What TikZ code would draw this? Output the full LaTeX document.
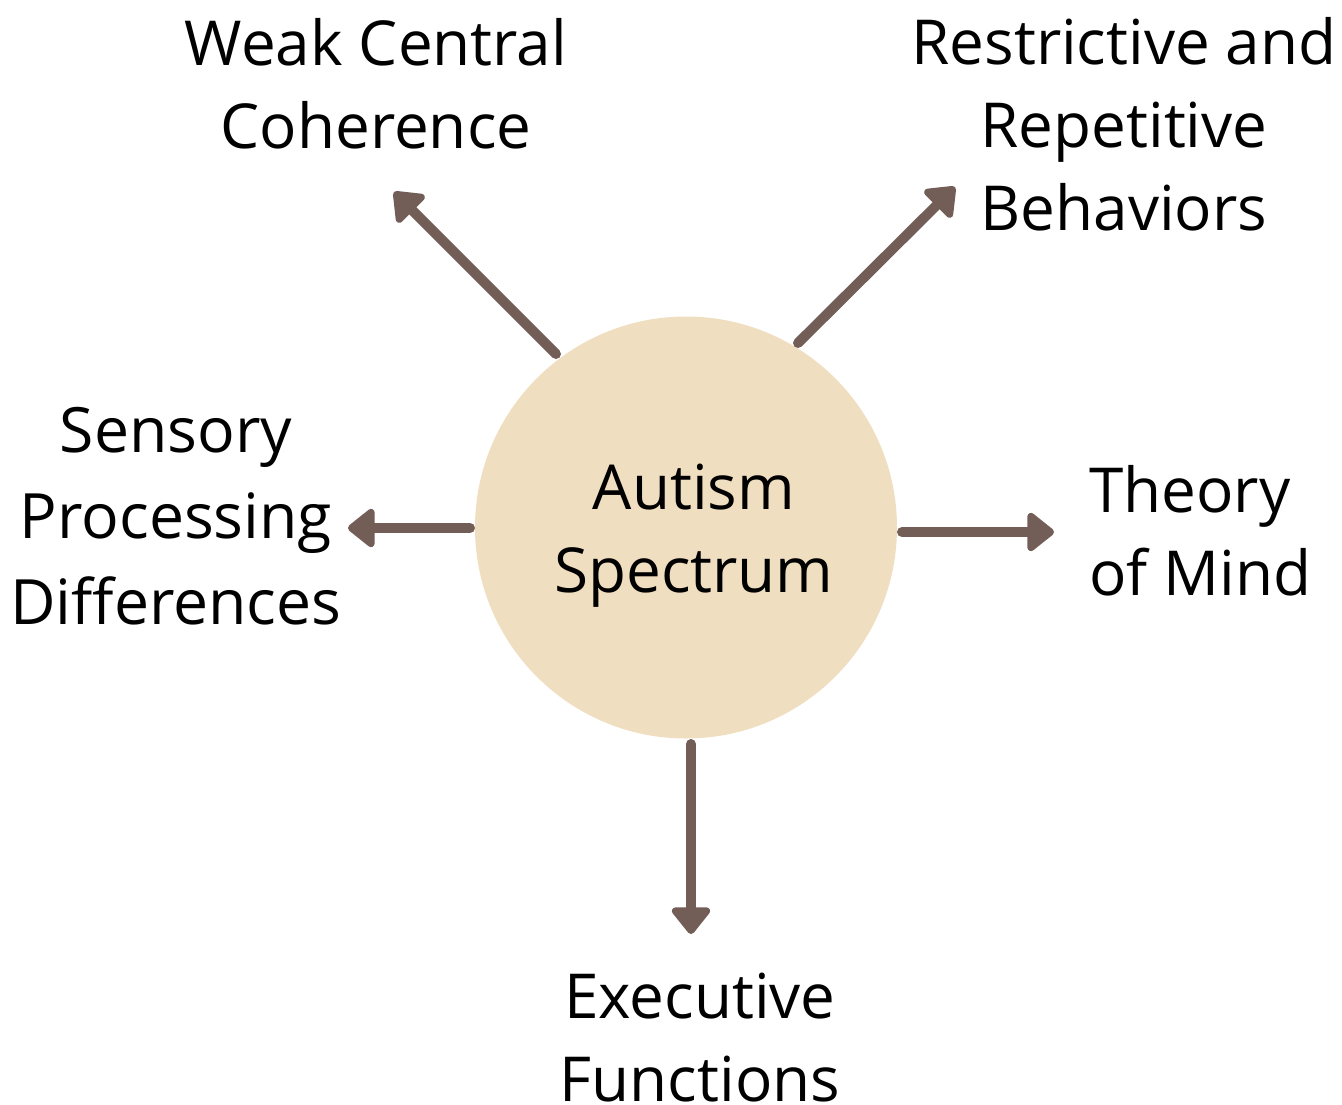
\documentclass[tikz,border=0pt]{standalone}
\usepackage{fontspec}
\setmainfont{Open Sans}
\usetikzlibrary{arrows.meta}
\definecolor{hub}{HTML}{F0DEC0}
\definecolor{link}{HTML}{735E57}
\begin{document}
\begin{tikzpicture}[x=1pt,y=-1pt,
  label text/.style={font=\fontsize{62}{83}\selectfont, align=center, text=black, inner sep=0pt},
  spoke/.style={draw=link, line width=10pt, line cap=round,
    -{Triangle[length=29pt,width=44pt,round]}}]
\useasboundingbox (0,0) rectangle (1342,1104);
% central circle
\node[circle, fill=hub, minimum size=422pt, inner sep=0pt] (hub) at (686,527.5) {};
\node[label text] (hubtext) at (694,536) {Autism\\Spectrum};
% surrounding themes
\node[label text] (wcc) at (376,84) {Weak Central\\Coherence};
\node[label text] (rrb) at (1124,124) {Restrictive and\\Repetitive\\Behaviors};
\node[label text, font=\fontsize{62.5}{86}\selectfont] (spd) at (176,516) {Sensory\\Processing\\Differences};
\node[label text, align=left, anchor=west] (tom) at (1089,531) {Theory\\of Mind};
\node[label text] (ef) at (700,1038) {Executive\\Functions};
% spoke end points
\coordinate (s1) at (556,354); \coordinate (t1) at (394,192);
\coordinate (s2) at (798,343); \coordinate (t2) at (955,187);
\coordinate (s3) at (470,528); \coordinate (t3) at (348,528);
\coordinate (s4) at (902,532); \coordinate (t4) at (1054,532);
\coordinate (s5) at (691,744); \coordinate (t5) at (691,934);
\draw[spoke] (s1) -- (t1);
\draw[spoke] (s2) -- (t2);
\draw[spoke] (s3) -- (t3);
\draw[spoke] (s4) -- (t4);
\draw[spoke] (s5) -- (t5);
\end{tikzpicture}
\end{document}
